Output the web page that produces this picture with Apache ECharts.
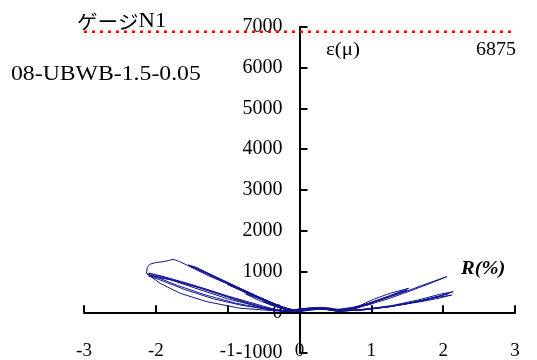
<!DOCTYPE html>
<html><head><meta charset="utf-8">
<script src="https://cdn.jsdelivr.net/npm/echarts@6/dist/echarts.min.js"></script>
<style>html,body{margin:0;padding:0;background:#fff}#c{width:537px;height:360px}</style>
</head><body><div id="c"></div>
<script>
// Axis ticks
const xTicks = [-3, -2, -1, 0, 1, 2, 3];
const yTicks = [-1000, 0, 1000, 2000, 3000, 4000, 5000, 6000, 7000];
const maxStrain = 6875;
// Hysteresis cycles: [R(%), ε(μ)]
const cyc025 = [[0,40],[0.08,70],[0.18,95],[0.25,105],[0.15,95],[0.05,85],[0,75],[-0.08,50],[-0.18,70],[-0.25,100],[-0.15,80],[-0.05,55],[0,50]];
const cyc050 = [[0,50],[0.12,90],[0.28,100],[0.42,60],[0.5,45],[0.38,70],[0.2,100],[0.05,90],[0,75],[-0.1,40],[-0.25,100],[-0.4,180],[-0.5,260],[-0.38,190],[-0.2,100],[-0.05,45],[0,40]];
const cyc075 = [[0,40],[0.15,95],[0.32,110],[0.48,40],[0.6,50],[0.75,120],[0.6,90],[0.45,50],[0.28,105],[0.1,95],[0,80],[-0.12,35],[-0.3,120],[-0.55,280],[-0.75,450],[-0.6,360],[-0.35,190],[-0.12,70],[0,40]];
const cyc100a = [[0,40],[0.15,100],[0.35,110],[0.52,30],[0.72,90],[0.88,150],[1.0,230],[0.85,170],[0.65,80],[0.5,35],[0.3,110],[0.1,100],[0,85],[-0.12,30],[-0.35,170],[-0.65,420],[-0.85,580],[-1.0,720],[-0.85,600],[-0.6,400],[-0.3,170],[-0.1,50],[0,30]];
const cyc100b = [[0,30],[0.18,95],[0.38,100],[0.53,25],[0.75,100],[1.0,205],[0.82,140],[0.6,60],[0.5,30],[0.28,105],[0.08,90],[0,70],[-0.15,30],[-0.4,210],[-0.7,450],[-1.0,680],[-0.8,530],[-0.5,300],[-0.2,90],[0,25]];
const cyc150a = [[0,25],[0.2,100],[0.4,105],[0.55,20],[0.8,130],[1.03,318],[1.26,465],[1.52,588],[1.35,470],[1.1,300],[0.85,150],[0.6,45],[0.35,100],[0.1,95],[0,80],[-0.1,30],[-0.36,220],[-0.69,465],[-1.01,710],[-1.29,955],[-1.55,1160],[-1.45,1110],[-1.2,900],[-0.9,650],[-0.6,400],[-0.3,160],[-0.1,50],[0,25]];
const cyc150b = [[0,25],[0.22,95],[0.42,95],[0.56,15],[0.8,110],[1.05,280],[1.3,430],[1.5,545],[1.3,410],[1.05,250],[0.8,110],[0.58,30],[0.35,95],[0.12,90],[0,70],[-0.12,20],[-0.4,240],[-0.72,490],[-1.02,730],[-1.3,950],[-1.53,1130],[-1.42,1080],[-1.15,850],[-0.85,600],[-0.55,360],[-0.25,130],[0,20]];
const cyc200a = [[0,20],[0.22,100],[0.45,100],[0.56,20],[0.8,100],[1.03,260],[1.26,383],[1.5,520],[1.72,669],[1.9,780],[2.05,873],[1.85,730],[1.55,530],[1.25,340],[0.95,180],[0.65,50],[0.4,100],[0.15,95],[0,60],[-0.15,15],[-0.37,40],[-0.83,100],[-1.29,260],[-1.66,465],[-1.94,710],[-2.13,955],[-2.12,1100],[-2.08,1180],[-2.0,1220],[-1.9,1240],[-1.82,1270],[-1.76,1300],[-1.68,1250],[-1.57,1160],[-1.29,915],[-1.01,700],[-0.74,470],[-0.36,190],[-0.1,55],[0,30]];
const cyc200b = [[0,30],[0.25,95],[0.5,60],[0.8,56],[1.0,100],[1.26,137],[1.5,210],[1.72,300],[1.95,400],[2.14,505],[1.95,440],[1.65,300],[1.3,170],[0.95,80],[0.6,30],[0.35,90],[0.1,90],[0,50],[-0.2,20],[-0.5,120],[-0.9,330],[-1.3,560],[-1.7,770],[-2.05,900],[-2.12,940],[-2.0,870],[-1.7,660],[-1.3,420],[-0.9,230],[-0.5,90],[-0.2,30],[0,30]];
const cyc200c = [[0,30],[0.25,90],[0.5,50],[0.8,50],[1.1,100],[1.4,180],[1.72,270],[1.95,350],[2.12,424],[1.9,360],[1.6,250],[1.25,140],[0.9,70],[0.6,25],[0.3,85],[0,45],[-0.2,15],[-0.6,150],[-1.0,370],[-1.4,600],[-1.8,800],[-2.1,890],[-1.95,800],[-1.6,560],[-1.2,330],[-0.8,170],[-0.4,60],[0,20]];
const cyc200d = [[0,20],[0.3,80],[0.55,30],[0.9,60],[1.3,150],[1.7,280],[2.08,460],[1.8,330],[1.3,150],[0.8,40],[0.4,80],[0,60],[-0.25,20],[-0.5,150],[-1.0,400],[-1.5,680],[-1.9,880],[-2.1,960],[-1.9,860],[-1.5,620],[-1.0,330],[-0.5,110],[-0.2,40],[0,50]];
const cycles = [cyc025, cyc050, cyc075, cyc100a, cyc100b, cyc150a, cyc150b, cyc200a, cyc200b, cyc200c, cyc200d];

const chart = echarts.init(document.getElementById('c'));
const serif = "'Liberation Serif','Times New Roman',serif";
const series = cycles.map(d => ({
  type: 'line', data: d, showSymbol: false, symbol: 'none', smooth: false,
  lineStyle: {color: '#141490', width: 1}, silent: true, z: 3
}));
series.push({
  type: 'line', data: [[xTicks[0], maxStrain], [xTicks[xTicks.length-1], maxStrain]],
  symbol: 'none', silent: true, z: 4,
  lineStyle: {color: '#ff0000', width: 2.5, type: [3, 5]}
});
chart.setOption({
  animation: false,
  grid: {left: 84, right: 22, top: 26.7, bottom: 6.9, outerBoundsMode: 'none', containLabel: false},
  xAxis: {
    type: 'value', position: 'bottom', offset: -40.8,
    min: xTicks[0], max: xTicks[xTicks.length-1], interval: 1,
    axisLine: {onZero: false, lineStyle: {color: '#000', width: 2}},
    axisTick: {inside: true, length: 7, lineStyle: {color: '#000', width: 2}},
    axisLabel: {margin: 29, color: '#000', fontFamily: serif, fontSize: 19, formatter: v => String(v)},
    splitLine: {show: false}
  },
  yAxis: {
    type: 'value', position: 'left', offset: -215.5,
    min: yTicks[0], max: yTicks[yTicks.length-1], interval: 1000,
    axisLine: {show: true, onZero: false, lineStyle: {color: '#000', width: 2}},
    axisTick: {show: true, inside: true, length: 8, lineStyle: {color: '#000', width: 2}},
    axisLabel: {margin: 17, color: '#000', fontFamily: serif, fontSize: 20, formatter: v => String(v)},
    splitLine: {show: false}
  },
  series: series,
  graphic: [
    {type: 'text', x: 77, y: 11, scaleX: 1.08, style: {
      text: '{j|ゲージ}{n|N1}', rich: {
        j: {fontFamily: "'Noto Sans CJK JP',sans-serif", fontSize: 19, fill: '#000'},
        n: {fontFamily: serif, fontSize: 21, fill: '#000'}}}},
    {type: 'text', x: 326, y: 41, scaleX: 1.1, style: {text: 'ε(μ)', fontFamily: serif, fontSize: 19, fill: '#000'}},
    {type: 'text', x: 516, y: 41, scaleX: 1.05, style: {text: String(maxStrain), fontFamily: serif, fontSize: 19, fill: '#000', align: 'right'}},
    {type: 'text', x: 11, y: 64, scaleX: 1.13, style: {text: '08-UBWB-1.5-0.05', fontFamily: serif, fontSize: 21, fill: '#000'}},
    {type: 'text', x: 461, y: 260, scaleX: 1.08, style: {text: 'R(%)', fontFamily: serif, fontSize: 19, fontWeight: 'bold', fontStyle: 'italic', fill: '#000'}}
  ]
});
</script></body></html>
